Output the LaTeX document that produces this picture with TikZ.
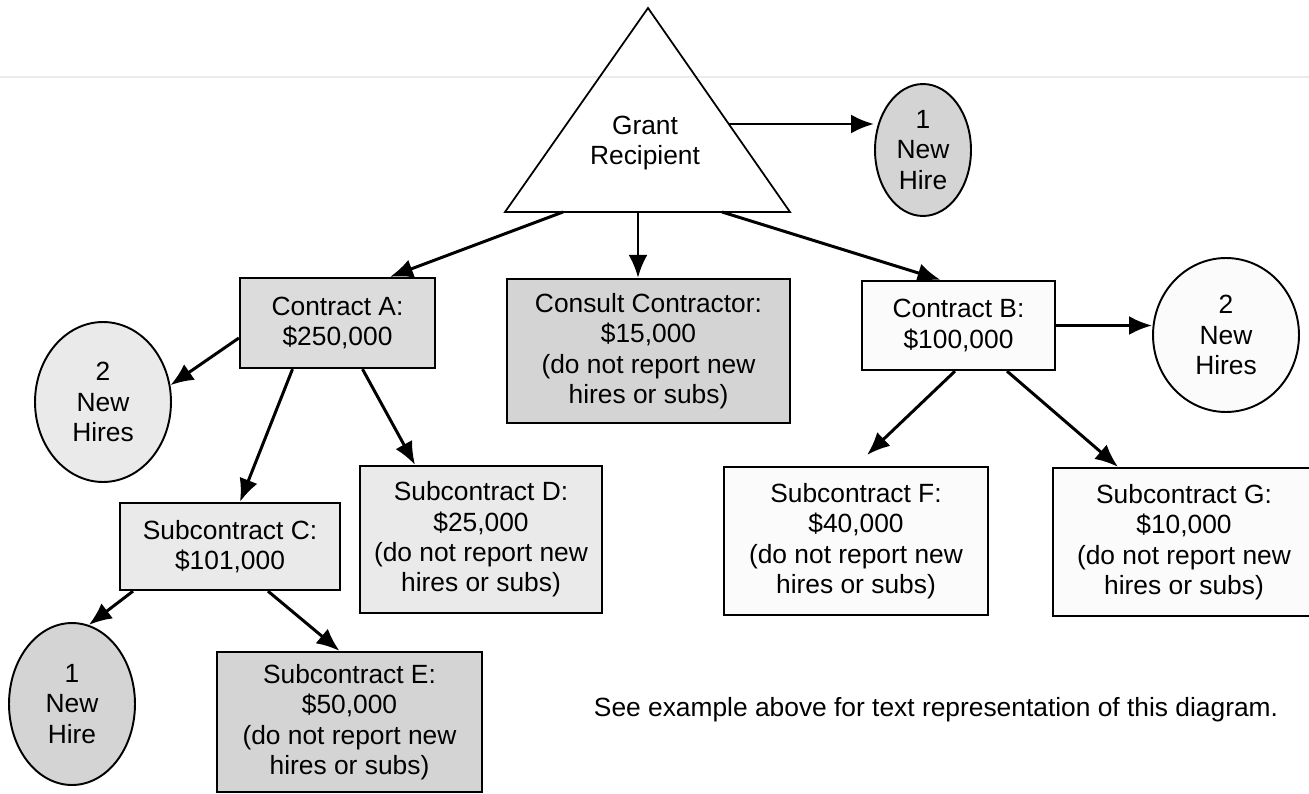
\documentclass[tikz,border=0pt]{standalone}
\usepackage{fontspec}
\setmainfont{Liberation Sans}
\usepackage{tikz}
\usetikzlibrary{arrows.meta,shapes.geometric,positioning}
\usepackage{xcolor}
\definecolor{grmid}{RGB}{220,220,220}
\definecolor{grlight}{RGB}{234,234,234}
\definecolor{grdark}{RGB}{212,212,212}
\definecolor{grwhite}{RGB}{251,251,251}
\tikzstyle{arrow} = [line width=1.7pt,-{Latex[length=4.6mm,width=3.8mm]}]
\tikzstyle{contract} = [rectangle, draw, line width=1.3pt, align=center, inner sep=0pt, font=\fontsize{15}{17.3}\selectfont]
\tikzstyle{hire} = [ellipse, draw, line width=1.1pt, align=center, inner sep=0pt, font=\fontsize{15}{17.3}\selectfont]

\begin{document}
\begin{tikzpicture}[x=0.02cm, y=-0.02cm]
\useasboundingbox (0,0) rectangle (1309,794);

% faint scan line
\draw[black!8, line width=0.8pt] (0,77) -- (1309,77);

% Grant recipient
\draw[line width=1pt] (648,8) -- (505,212) -- (790,212) -- cycle;
\node[font=\fontsize{15}{17.3}\selectfont, align=center] (grant) at (645,143) {Grant\\Recipient};
\coordinate (gA) at (563,212);
\coordinate (gC) at (638,212);
\coordinate (gB) at (722,212);
\coordinate (gH) at (728,124);

% Hires
\node[hire, minimum width=1.92cm, minimum height=2.64cm, fill=grdark] (hireTop) at (923,150) {1\\New\\Hire};
\node[hire, minimum width=2.72cm, minimum height=3.2cm, fill=grlight] (hireA) at (103,402) {2\\New\\Hires};
\node[hire, minimum width=2.92cm, minimum height=3.08cm, fill=grwhite] (hireB) at (1226,335) {2\\New\\Hires};
\node[hire, minimum width=2.52cm, minimum height=3.24cm, fill=grdark] (hireC) at (72,704) {1\\New\\Hire};

% Contracts
\node[contract, minimum width=3.9cm, minimum height=1.8cm, fill=grmid] (conA) at (337.5,323) {Contract A:\\\$250,000};
\node[contract, minimum width=5.66cm, minimum height=2.88cm, fill=grdark] (consult) at (648.5,351) {Consult Contractor:\\\$15,000\\(do not report new\\hires or subs)};
\node[contract, minimum width=3.86cm, minimum height=1.78cm, fill=grwhite] (conB) at (958.5,325.5) {Contract B:\\\$100,000};

% Subcontracts
\node[contract, minimum width=4.4cm, minimum height=1.74cm, fill=grlight] (subC) at (230,546.5) {Subcontract C:\\\$101,000};
\node[contract, minimum width=4.84cm, minimum height=2.94cm, fill=grlight] (subD) at (481,539.5) {Subcontract D:\\\$25,000\\(do not report new\\hires or subs)};
\node[contract, minimum width=5.3cm, minimum height=2.8cm, fill=grdark] (subE) at (349.5,722) {Subcontract E:\\\$50,000\\(do not report new\\hires or subs)};
\node[contract, minimum width=5.28cm, minimum height=2.96cm, fill=grwhite] (subF) at (856,541) {Subcontract F:\\\$40,000\\(do not report new\\hires or subs)};
\node[contract, minimum width=5.24cm, minimum height=2.96cm, fill=grwhite] (subG) at (1184,542) {Subcontract G:\\\$10,000\\(do not report new\\hires or subs)};
\coordinate (fTip) at (867,455);

% Arrows
\draw[arrow] (gH) -- (gH -| hireTop.west);
\draw[arrow] (gA) -- ([xshift=1.05cm]conA.north);
\draw[arrow] (gC) -- (gC |- consult.north);
\draw[arrow] (gB) -- ([xshift=-0.36cm]conB.north);
\draw[arrow] ([yshift=-0.3cm]conA.west) -- (hireA.14);
\draw[arrow] ([xshift=-0.9cm]conA.south) -- ([xshift=0.2cm]subC.north);
\draw[arrow] ([xshift=0.5cm]conA.south) -- ([xshift=-1.32cm]subD.north);
\draw[arrow] (conB.east) -- (conB.east -| hireB.west);
\draw[arrow] ([xshift=-0.07cm]conB.south) -- (fTip);
\draw[arrow] ([xshift=0.97cm]conB.south) -- ([xshift=-1.32cm]subG.north);
\draw[arrow] ([xshift=-1.94cm]subC.south) -- (hireC.78);
\draw[arrow] ([xshift=0.76cm]subC.south) -- ([xshift=-0.2cm]subE.north);

% Note
\node[font=\fontsize{15}{17.3}\selectfont] (note) at (936,710) {See example above for text representation of this diagram.};
\end{tikzpicture}
\end{document}
